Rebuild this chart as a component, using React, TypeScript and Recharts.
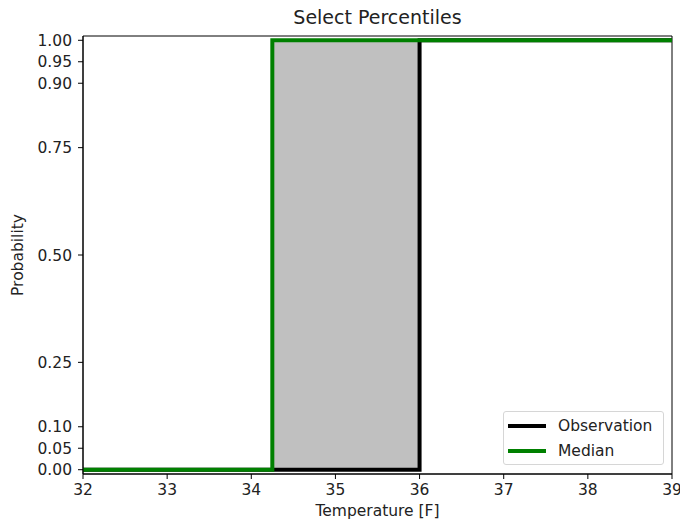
import React from "react";
import {
  ComposedChart,
  Line,
  XAxis,
  YAxis,
  ReferenceArea,
} from "recharts";

// step curves (value holds from each x until the next one)
const observation = [
  { temp: 32, prob: 0 },
  { temp: 36, prob: 1 },
  { temp: 39, prob: 1 },
];
const median = [
  { temp: 32, prob: 0 },
  { temp: 34.25, prob: 1 },
  { temp: 39, prob: 1 },
];
// shaded band between median and observation
const band = { from: 34.25, to: 36, low: 0, high: 1 };

const xTicks = [32, 33, 34, 35, 36, 37, 38, 39];
const yTicks = [0, 0.05, 0.1, 0.25, 0.5, 0.75, 0.9, 0.95, 1.0];

const FONT = "'DejaVu Sans', sans-serif";
const tickStyle = { fontSize: 15.5, fill: "#222", fontFamily: FONT };

const legendItems = [
  { name: "Observation", color: "#000000" },
  { name: "Median", color: "#008000" },
];

const LegendBox = () => (
  <div
    style={{
      position: "absolute",
      left: 503,
      top: 411,
      width: 161,
      height: 54,
      border: "1px solid #d6d6d6",
      borderRadius: 3,
      background: "rgba(255,255,255,0.8)",
      fontFamily: FONT,
      fontSize: 15.5,
      color: "#222",
      boxSizing: "border-box",
      paddingTop: 1,
    }}
  >
    {legendItems.map((it) => (
      <div key={it.name} style={{ display: "flex", alignItems: "center", height: 25 }}>
        <div style={{ width: 38, height: 4, background: it.color, marginLeft: 4, marginRight: 12 }} />
        <span>{it.name}</span>
      </div>
    ))}
  </div>
);

export default function App() {
  return (
    <div style={{ position: "absolute", left: 0, top: 0, width: 680, height: 523, background: "#fff" }}>
      <div
        style={{
          position: "absolute",
          left: 83,
          width: 589,
          top: 4,
          textAlign: "center",
          fontFamily: FONT,
          fontSize: 19,
          color: "#222",
          lineHeight: "26px",
        }}
      >
        Select Percentiles
      </div>
      <div
        style={{
          position: "absolute",
          left: 18,
          top: 255,
          transform: "translate(-50%, -50%) rotate(-90deg)",
          fontFamily: FONT,
          fontSize: 15.5,
          color: "#222",
          whiteSpace: "nowrap",
        }}
      >
        Probability
      </div>
      <div
        style={{
          position: "absolute",
          left: 83,
          width: 589,
          top: 501,
          textAlign: "center",
          fontFamily: FONT,
          fontSize: 15.5,
          color: "#222",
          lineHeight: "20px",
        }}
      >
        Temperature [F]
      </div>
      <ComposedChart
        width={680}
        height={523}
        margin={{ top: 36, right: 8, left: 0, bottom: 0 }}
        style={{ position: "absolute", left: 0, top: 0 }}
      >
        <XAxis
          dataKey="temp"
          type="number"
          domain={[32, 39]}
          ticks={xTicks}
          allowDuplicatedCategory={false}
          height={49}
          tickSize={5}
          tickMargin={5}
          tick={tickStyle}
          stroke="#000"
          tickLine={{ stroke: "#000" }}
          axisLine={{ stroke: "#000" }}
        />
        <YAxis
          type="number"
          domain={[-0.01, 1.01]}
          ticks={yTicks}
          width={83}
          tickSize={5}
          tickMargin={6}
          tick={tickStyle}
          tickFormatter={(v: number) => v.toFixed(2)}
          stroke="#000"
          interval={0}
        />
        <ReferenceArea
          x1={band.from}
          x2={band.to}
          y1={band.low}
          y2={band.high}
          fill="#c0c0c0"
          fillOpacity={1}
          stroke="#e0e0e0"
          strokeWidth={1.5}
        />
        <ReferenceArea
          x1={32}
          x2={39}
          y1={-0.01}
          y2={1.01}
          fill="none"
          stroke="#000"
          strokeWidth={1}
        />
        <Line
          data={observation}
          dataKey="prob"
          name="Observation"
          type="stepAfter"
          stroke="#000000"
          strokeWidth={4}
          dot={false}
          isAnimationActive={false}
        />
        <Line
          data={median}
          dataKey="prob"
          name="Median"
          type="stepAfter"
          stroke="#008000"
          strokeWidth={4}
          dot={false}
          isAnimationActive={false}
        />
      </ComposedChart>
      <LegendBox />
    </div>
  );
}
